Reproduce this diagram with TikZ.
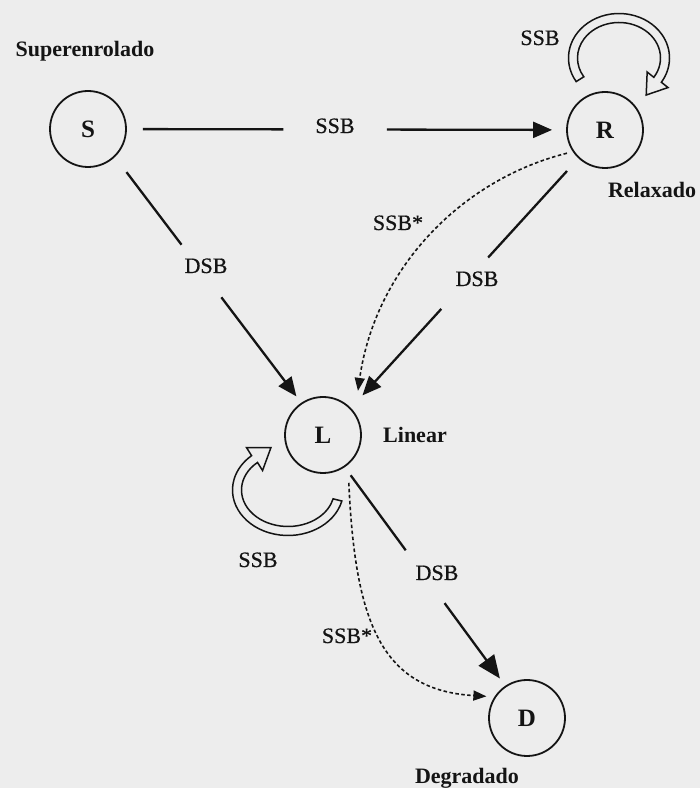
\documentclass[tikz,border=0pt]{standalone}
\usepackage{fontspec}
\setmainfont{Liberation Serif}
\newfontfamily\lblfont[FakeBold=0.6]{Liberation Serif}
\usetikzlibrary{arrows.meta,calc}
\definecolor{bg}{RGB}{237,237,237}
\definecolor{ink}{RGB}{20,20,20}

% hollow (outlined) curved arrow drawn as a closed band with an open head
% #1 cx #2 cy #3 rx #4 ry #5 start angle #6 end angle #7 half band #8 head length #9 head half width
\newcommand\hollowloop[9]{%
\pgfmathsetmacro\HLpx{#1+#3*cos(#6)}%
\pgfmathsetmacro\HLpy{#2+#4*sin(#6)}%
\pgfmathsetmacro\HLsg{(#6<#5)?1:-1}%
\pgfmathsetmacro\HLdx{(\HLsg)*#3*sin(#6)}%
\pgfmathsetmacro\HLdy{(-1)*(\HLsg)*#4*cos(#6)}%
\pgfmathsetmacro\HLdl{sqrt(\HLdx*\HLdx+\HLdy*\HLdy)}%
\pgfmathsetmacro\HLux{\HLdx/\HLdl}%
\pgfmathsetmacro\HLuy{\HLdy/\HLdl}%
\pgfmathsetmacro\HLnx{#4*cos(#6)}%
\pgfmathsetmacro\HLny{#3*sin(#6)}%
\pgfmathsetmacro\HLnl{sqrt(\HLnx*\HLnx+\HLny*\HLny)}%
\pgfmathsetmacro\HLnx{\HLnx/\HLnl}%
\pgfmathsetmacro\HLny{\HLny/\HLnl}%
\pgfmathsetmacro\HLro{#3+#7}\pgfmathsetmacro\HLso{#4+#7}%
\pgfmathsetmacro\HLri{#3-#7}\pgfmathsetmacro\HLsi{#4-#7}%
\draw[hloop] ({#1+\HLro*cos(#5)},{#2+\HLso*sin(#5)})
  arc[start angle=#5, end angle=#6, x radius=\HLro pt, y radius=\HLso pt]
  -- ({\HLpx+#9*\HLnx},{\HLpy+#9*\HLny})
  -- ({\HLpx+#8*\HLux},{\HLpy+#8*\HLuy})
  -- ({\HLpx-#9*\HLnx},{\HLpy-#9*\HLny})
  -- ({#1+\HLri*cos(#6)},{#2+\HLsi*sin(#6)})
  arc[start angle=#6, end angle=#5, x radius=\HLri pt, y radius=\HLsi pt]
  -- cycle;}

\begin{document}
\begin{tikzpicture}[x=1pt,y=1pt,
  stbox/.style={circle, draw=ink, line width=1.8pt, minimum size=76pt, inner sep=0pt,
    font=\fontsize{25}{25}\selectfont\bfseries, text=ink},
  lbl/.style={font=\lblfont\fontsize{22}{24}\selectfont, text=ink, inner sep=0pt, anchor=base},
  statename/.style={font=\fontsize{22}{24}\selectfont\bfseries, text=ink, inner sep=0pt, anchor=base},
  conn/.style={draw=ink, line width=2.3pt},
  arrowtip/.style={-{Triangle[length=19pt,width=16pt]}},
  bigtip/.style={-{Triangle[length=23pt,width=19pt]}},
  dashconn/.style={draw=ink, line width=1.6pt, dash pattern=on 3.5pt off 2.5pt,
    -{Triangle[length=13pt,width=10pt]}},
  hloop/.style={draw=ink, line width=1.5pt, line join=miter}
]
\fill[bg] (0,0) rectangle (700,788);
\useasboundingbox (0,0) rectangle (700,788);

% states
\node[stbox] (S) at (88,659) {S};
\node[stbox] (R) at (605,658) {R};
\node[stbox] (L) at (323,353) {L};
\node[stbox] (D) at (527,70) {D};

% state names
\node[statename] (nS) at (85,731) {Superenrolado};
\node[statename] (nR) at (652,590) {Relaxado};
\node[statename] (nL) at (415,345) {Linear};
\node[statename] (nD) at (467,5) {Degradado};

% edge labels
\node[lbl] (lSR) at (335,655) {SSB};
\node[lbl] (lRR) at (540,743) {SSB};
\node[lbl] (lRLs) at (398,558) {SSB*};
\node[lbl] (lSL) at (206,515) {DSB};
\node[lbl] (lRL) at (477,502) {DSB};
\node[lbl] (lLL) at (258,221) {SSB};
\node[lbl] (lLD) at (437,208) {DSB};
\node[lbl] (lLDs) at (347,145) {SSB*};

% S -> R
\path (S) -- (R) coordinate[pos=0.356] (sr1) coordinate[pos=0.592] (sr2);
\draw[conn, shorten <=16pt] (S) -- (sr1);
\draw[conn, arrowtip, shorten >=14pt] (sr2) -- (R);

% S -> L
\path (S.-46) -- (L.124) coordinate[pos=0.357] (sl1) coordinate[pos=0.571] (sl2);
\draw[conn, shorten <=19pt] (S.-46) -- (sl1);
\draw[conn, arrowtip, shorten >=8pt] (sl2) -- (L.124);

% R -> L
\path (R.227) -- (L.44) coordinate[pos=0.397] (rl1) coordinate[pos=0.603] (rl2);
\draw[conn, shorten <=17pt] (R.227) -- (rl1);
\draw[conn, arrowtip, shorten >=17pt] (rl2) -- (L.44);

% L -> D
\path (L.-56) -- (D.124) coordinate[pos=0.380] (ld1) coordinate[pos=0.622] (ld2);
\draw[conn, shorten <=10pt] (L.-56) -- (ld1);
\draw[conn, bigtip, shorten >=9pt] (ld2) -- (D.124);

% dashed SSB* transitions
\draw[dashconn, shorten <=6pt, shorten >=22pt] (R.214) .. controls (460,608) and (375,518) .. (L.35);
\draw[dashconn, shorten <=18pt, shorten >=8pt] (L.-50) .. controls (355,168) and (380,98) .. (D.147);

% hollow self loops
\hollowloop{619}{730}{46}{40}{212}{-33}{4.5}{19}{13}
\hollowloop{288}{298}{51}{41}{-14}{-229}{4.5}{20}{14}
\end{tikzpicture}
\end{document}
